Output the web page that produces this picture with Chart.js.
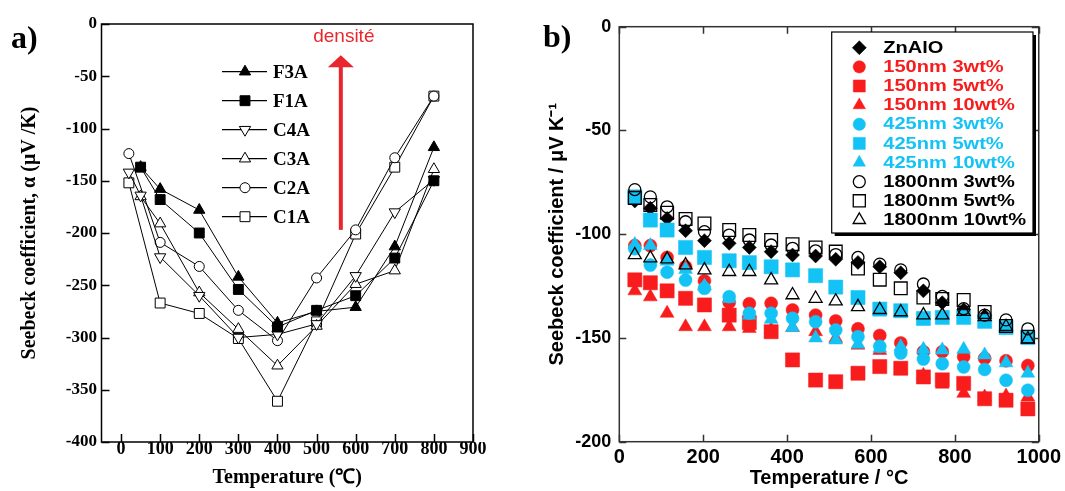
<!DOCTYPE html>
<html>
<head>
<meta charset="utf-8">
<script src="https://cdn.jsdelivr.net/npm/chart.js@4/dist/chart.umd.min.js"></script>
<style>
  html, body { margin: 0; padding: 0; background: #fff; }
  #wrap { position: relative; width: 1065px; height: 491px; overflow: hidden; }
  #chartA { position: absolute; left: 0; top: 0; }
  #chartB { position: absolute; left: 530px; top: 0; }
</style>
</head>
<body>
<div id="wrap">
  <canvas id="chartA" width="530" height="491"></canvas>
  <canvas id="chartB" width="535" height="491"></canvas>
</div>
<script>
// ---------- panel a) Seebeck vs temperature, sintered samples ----------
const namesA = ['F3A', 'F1A', 'C4A', 'C3A', 'C2A', 'C1A'];
const xTicksA = [0, 100, 200, 300, 400, 500, 600, 700, 800, 900];

const tempF3A = [50, 100, 200, 300, 400, 500, 600, 700, 800];
const seebF3A = [-137, -158, -178, -242, -286, -275, -271, -213, -118];
const tempF1A = [50, 100, 200, 300, 400, 500, 600, 700, 800];
const seebF1A = [-137, -168, -200, -254, -290, -274, -260, -224, -150];
const tempC4A = [20, 50, 100, 200, 300, 400, 500, 600, 700, 800];
const seebC4A = [-142, -164, -223, -260, -300, -297, -287, -241, -180, -149];
const tempC3A = [50, 100, 200, 300, 400, 500, 600, 700, 800];
const seebC3A = [-165, -191, -257, -292, -327, -289, -249, -236, -139];
const tempC2A = [20, 100, 200, 300, 400, 500, 600, 700, 800];
const seebC2A = [-124, -209, -232, -274, -303, -243, -197, -128, -69];
const tempC1A = [20, 100, 200, 300, 400, 500, 600, 700, 800];
const seebC1A = [-152, -267, -277, -301, -361, -285, -201, -137, -69];

// arrow "densité" (data coords of panel a)
const arrowX = 562, arrowFrom = -197, arrowTo = -30;

// ---------- panel b) Seebeck vs temperature, composites ----------
const namesB = ['ZnAlO', '150nm 3wt%', '150nm 5wt%', '150nm 10wt%',
  '425nm 3wt%', '425nm 5wt%', '425nm 10wt%',
  '1800nm 3wt%', '1800nm 5wt%', '1800nm 10wt%'];
const tempsB = [37, 74, 114, 158, 203, 262, 310, 362, 413, 468, 516, 569, 621, 671, 725, 770, 821, 871, 922, 974];

const znalo = [-84, -87.5, -92.4, -98.3, -103.1, -104.4, -106.4, -108.4, -110, -110.5, -112.1, -113.6, -115.7, -118.6, -127.3, -133, -136.4, -139.4];
const nm150w3 = [-105.5, -105.5, -111.2, -115.7, -122.5, -132.9, -133.5, -133.3, -136.5, -139, -141.8, -145.6, -148.8, -152.4, -156.6, -156.6, -159, -159.8, -161, -163.3];
const nm150w5 = [-122, -123.4, -127.3, -130.9, -134.1, -139, -142.6, -147, -160.6, -170.3, -171.1, -167, -163.8, -164.6, -168.8, -170.2, -171.9, -179.3, -180, -184.2];
const nm150w10 = [-127.3, -130.2, -138.1, -144.6, -144.6, -144.6, -145.4, -146, -145, -147, -150.2, -153.5, -156, -165.4, -168, -172.3, -176.7, -178.5, -178, -178.5];
const nm425w3 = [-107, -114.9, -118.3, -122.1, -126.1, -130.1, -138.1, -138.1, -140.5, -142.2, -146.2, -149.4, -154, -157.3, -160.2, -162.4, -164, -165.2, -170.4, -175.2];
const nm425w5 = [-82, -93.2, -98, -106.4, -111.2, -112.8, -113.7, -115.7, -117.2, -120, -125.5, -130.5, -136.1, -136.9, -140.6, -140.1, -140.1, -142, -145, -149.8];
const nm425w10 = [-105, -105.5, -113, -117, -125, -131, -139, -141, -145, -150, -151, -153, -155, -154.2, -155.5, -155.8, -155.5, -158.2, -162, -167];
const nm1800w3 = [-78.5, -82, -86.8, -94, -98.8, -100.4, -102.8, -105.2, -106.8, -108, -109.8, -111.2, -114.4, -117.2, -124, -130, -135.9, -139, -141.3, -145.6];
const nm1800w5 = [-82.5, -85.9, -89.7, -92.7, -94.8, -98, -100.4, -102.8, -104.8, -106.4, -108.4, -116.5, -121.9, -126.1, -130.5, -131.2, -131.7, -137.5, -144.2, -149.4];
const nm1800w10 = [-110, -111.5, -112, -114.9, -117.3, -118.1, -118.1, -122.1, -129.3, -131, -132.3, -135, -136.4, -137.5, -139, -139, -137.3, -139.8, -144.6, -150.6];

const RED = '#f81c1c';
const CYAN = '#14c3f5';
const SERIF = '"Liberation Serif", "Times New Roman", serif';
const SANS = '"Liberation Sans", Arial, Helvetica, sans-serif';

const toPts = (xs, ys) => ys.map((v, i) => ({ x: xs[i], y: v }));

// frame + inward tick marks
const frame = {
  id: 'frame',
  afterDraw(chart, args, o) {
    const { ctx, chartArea: a, scales } = chart;
    ctx.save();
    ctx.strokeStyle = o.color;
    ctx.lineWidth = o.width;
    ctx.beginPath();
    scales.x.ticks.forEach(t => {
      const px = Math.round(scales.x.getPixelForValue(t.value)) + 0.5;
      ctx.moveTo(px, a.bottom); ctx.lineTo(px, a.bottom - o.len);
      if (o.mirror) { ctx.moveTo(px, a.top); ctx.lineTo(px, a.top + o.len); }
    });
    scales.y.ticks.forEach(t => {
      const py = Math.round(scales.y.getPixelForValue(t.value)) + 0.5;
      ctx.moveTo(a.left, py); ctx.lineTo(a.left + o.len, py);
      if (o.mirror) { ctx.moveTo(a.right, py); ctx.lineTo(a.right - o.len, py); }
    });
    ctx.stroke();
    ctx.strokeRect(a.left, a.top, a.right - a.left, a.bottom - a.top);
    ctx.restore();
  }
};

const tag = {
  id: 'tag',
  afterDraw(chart, args, o) {
    const ctx = chart.ctx;
    ctx.save();
    ctx.fillStyle = '#000';
    ctx.font = 'bold 32px ' + SERIF;
    ctx.textBaseline = 'alphabetic';
    ctx.fillText(o.text, o.x, o.y);
    ctx.restore();
  }
};

function marker(ctx, ds, x, y, scale) {
  ctx.fillStyle = ds.pointBackgroundColor;
  ctx.strokeStyle = ds.pointBorderColor;
  ctx.lineWidth = ds.pointBorderWidth;
  Chart.helpers.drawPoint(ctx, {
    pointStyle: ds.pointStyle,
    radius: ds.pointRadius * scale,
    rotation: ds.pointRotation || 0,
    borderWidth: ds.pointBorderWidth
  }, x, y);
}

// ---------- panel a ----------
const tempsA = [tempF3A, tempF1A, tempC4A, tempC3A, tempC2A, tempC1A];
const seebA = [seebF3A, seebF1A, seebC4A, seebC3A, seebC2A, seebC1A];
const styleA = [
  { s: 'triangle', r: 6.5, fill: '#000', rot: 0 },
  { s: 'rect', r: 7, fill: '#000', rot: 0 },
  { s: 'triangle', r: 6.5, fill: '#fff', rot: 180 },
  { s: 'triangle', r: 6.5, fill: '#fff', rot: 0 },
  { s: 'circle', r: 5, fill: '#fff', rot: 0 },
  { s: 'rect', r: 7, fill: '#fff', rot: 0 }
];

const legendA = {
  id: 'legendA',
  afterDraw(chart) {
    const ctx = chart.ctx;
    ctx.save();
    chart.data.datasets.forEach((ds, i) => {
      const y = 71.7 + i * 29;
      ctx.strokeStyle = '#000';
      ctx.lineWidth = 1.2;
      ctx.beginPath();
      ctx.moveTo(222, y); ctx.lineTo(267, y);
      ctx.stroke();
      marker(ctx, ds, 245, y, 1);
      ctx.fillStyle = '#000';
      ctx.font = 'bold 19px ' + SERIF;
      ctx.textBaseline = 'middle';
      ctx.fillText(ds.label, 273, y + 1);
    });
    ctx.restore();
  }
};

const density = {
  id: 'density',
  afterDatasetsDraw(chart) {
    const { ctx, scales: { x, y } } = chart;
    const px = x.getPixelForValue(arrowX);
    const yb = y.getPixelForValue(arrowFrom);
    const yt = y.getPixelForValue(arrowTo);
    ctx.save();
    ctx.fillStyle = '#e8262d';
    ctx.fillRect(px - 2, yt + 11, 4, yb - yt - 11);
    ctx.beginPath();
    ctx.moveTo(px, yt);
    ctx.lineTo(px + 13, yt + 12);
    ctx.lineTo(px - 13, yt + 12);
    ctx.closePath();
    ctx.fill();
    ctx.font = '19px ' + SANS;
    ctx.textAlign = 'center';
    ctx.textBaseline = 'middle';
    ctx.fillText('densité', px + 3, y.getPixelForValue(-12.5));
    ctx.restore();
  }
};

new Chart(document.getElementById('chartA'), {
  type: 'scatter',
  data: {
    datasets: namesA.map((n, i) => ({
      label: n,
      data: toPts(tempsA[i], seebA[i]),
      showLine: true,
      borderColor: '#000',
      borderWidth: 1,
      tension: 0,
      pointStyle: styleA[i].s,
      pointRadius: styleA[i].r,
      pointRotation: styleA[i].rot,
      pointBackgroundColor: styleA[i].fill,
      pointBorderColor: '#000',
      pointBorderWidth: 1,
      clip: false
    }))
  },
  options: {
    responsive: false,
    animation: false,
    events: [],
    layout: { padding: { left: 0, top: 24, right: 57, bottom: 0 } },
    plugins: {
      legend: { display: false },
      tooltip: { enabled: false },
      frame: { color: '#000', width: 1.5, len: 8, mirror: false },
      tag: { text: 'a)', x: 11, y: 48 }
    },
    scales: {
      x: {
        type: 'linear', min: -50, max: 900,
        afterBuildTicks: s => { s.ticks = xTicksA.map(v => ({ value: v })); },
        afterFit: s => { s.height = 49; },
        grid: { display: false, drawTicks: false },
        border: { display: false },
        ticks: { color: '#000', padding: -2, callback: v => String(v),
          font: { family: SERIF, size: 18, weight: 'bold', lineHeight: 1 } },
        title: { display: true, text: 'Temperature (℃)', color: '#000',
          font: { family: SERIF, size: 20, weight: 'bold' }, padding: { top: 0, bottom: 1 } }
      },
      y: {
        type: 'linear', min: -400, max: 0,
        ticks: { stepSize: 50, color: '#000', padding: 4.5, callback: v => String(v),
          font: { family: SERIF, size: 17, weight: 'bold' } },
        afterFit: s => { s.width = 101.5; },
        grid: { display: false, drawTicks: false },
        border: { display: false },
        title: { display: true, text: 'Seebeck coefficient, α (μV /K)', color: '#000',
          font: { family: SERIF, size: 20, weight: 'bold' }, padding: { top: 18, bottom: 0 } }
      }
    }
  },
  plugins: [frame, density, legendA, tag]
});

// ---------- panel b ----------
const seebB = [znalo, nm150w3, nm150w5, nm150w10, nm425w3, nm425w5, nm425w10, nm1800w3, nm1800w5, nm1800w10];
const styleB = [
  { s: 'rectRot', r: 7, fill: '#000', line: '#000', text: '#000', order: 3, lr: 1 },
  { s: 'circle', r: 6.5, fill: RED, line: RED, text: RED, order: 2, lr: 0.95 },
  { s: 'rect', r: 10, fill: RED, line: RED, text: RED, order: 2, lr: 0.85 },
  { s: 'triangle', r: 8, fill: RED, line: RED, text: RED, order: 2, lr: 0.9 },
  { s: 'circle', r: 6.5, fill: CYAN, line: CYAN, text: CYAN, order: 1, lr: 0.95 },
  { s: 'rect', r: 10, fill: CYAN, line: CYAN, text: CYAN, order: 1, lr: 0.85 },
  { s: 'triangle', r: 8, fill: CYAN, line: CYAN, text: CYAN, order: 1, lr: 0.9 },
  { s: 'circle', r: 6, fill: 'rgba(0,0,0,0)', line: '#000', text: '#000', order: 0, lr: 1 },
  { s: 'rect', r: 9, fill: 'rgba(0,0,0,0)', line: '#000', text: '#000', order: 0, lr: 0.95 },
  { s: 'triangle', r: 7.5, fill: 'rgba(0,0,0,0)', line: '#000', text: '#000', order: 0, lr: 0.95 }
];

const legendB = {
  id: 'legendB',
  afterDraw(chart) {
    const ctx = chart.ctx;
    const L = 301.7, T = 32, R = 503, B = 233;
    ctx.save();
    ctx.fillStyle = '#000';
    ctx.fillRect(L + 3, T + 3, R - L, B - T);
    ctx.fillStyle = '#fff';
    ctx.fillRect(L, T, R - L, B - T);
    ctx.strokeStyle = '#000';
    ctx.lineWidth = 1.2;
    ctx.strokeRect(L, T, R - L, B - T);
    chart.data.datasets.forEach((ds, i) => {
      const y = 47.7 + i * 19.14;
      marker(ctx, ds, 329.3, y, styleB[i].lr);
      ctx.save();
      ctx.fillStyle = styleB[i].text;
      ctx.font = 'bold 17px ' + SANS;
      ctx.textBaseline = 'middle';
      ctx.translate(353.3, y + 0.5);
      ctx.scale(1.18, 1);
      ctx.fillText(ds.label, 0, 0);
      ctx.restore();
    });
    ctx.restore();
  }
};

new Chart(document.getElementById('chartB'), {
  type: 'scatter',
  data: {
    datasets: namesB.map((n, i) => ({
      label: n,
      data: toPts(tempsB, seebB[i]),
      showLine: false,
      order: styleB[i].order,
      pointStyle: styleB[i].s,
      pointRadius: styleB[i].r,
      pointBackgroundColor: styleB[i].fill,
      pointBorderColor: styleB[i].line,
      pointBorderWidth: styleB[i].fill.startsWith('rgba') ? 1.3 : 0.5,
      clip: false
    }))
  },
  options: {
    responsive: false,
    animation: false,
    events: [],
    layout: { padding: { left: 0, top: 26.7, right: 26, bottom: 0 } },
    plugins: {
      legend: { display: false },
      tooltip: { enabled: false },
      frame: { color: '#333', width: 1.5, len: 7, mirror: true },
      tag: { text: 'b)', x: 13, y: 47 }
    },
    scales: {
      x: {
        type: 'linear', min: 0, max: 1000,
        ticks: { stepSize: 200, color: '#000', padding: 4, callback: v => String(v),
          font: { family: SANS, size: 20, weight: 'bold' } },
        afterFit: s => { s.height = 49.3; },
        grid: { display: false, drawTicks: false },
        border: { display: false },
        title: { display: true, text: 'Temperature / °C', color: '#000',
          font: { family: SANS, size: 20, weight: 'bold' }, padding: { top: 0, bottom: 1 } }
      },
      y: {
        type: 'linear', min: -200, max: 0,
        ticks: { stepSize: 50, color: '#000', padding: 8, callback: v => String(v),
          font: { family: SANS, size: 18, weight: 'bold' } },
        afterFit: s => { s.width = 89.3; },
        grid: { display: false, drawTicks: false },
        border: { display: false },
        title: { display: true, text: 'Seebeck coefficient / μV K⁻¹', color: '#000',
          font: { family: SANS, size: 20, weight: 'bold' }, padding: { top: 15, bottom: 0 } }
      }
    }
  },
  plugins: [frame, legendB, tag]
});
</script>
</body>
</html>
